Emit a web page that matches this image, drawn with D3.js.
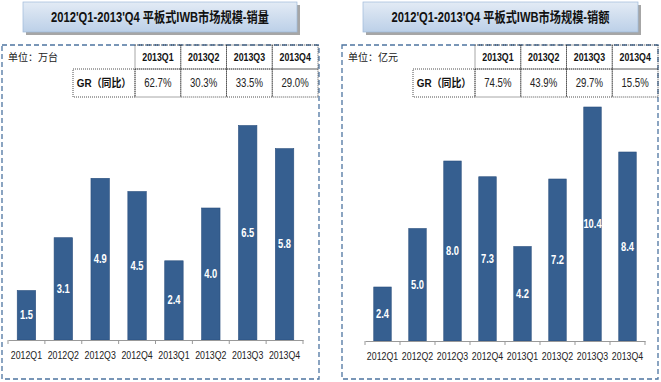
<!DOCTYPE html>
<html>
<head>
<meta charset="utf-8">
<script src="https://cdn.jsdelivr.net/npm/d3@7"></script>
<style>
  body { margin: 0; background: #fff; }
  svg { display: block; }
  text { font-family: "Liberation Sans", Arial, "Noto Sans CJK SC", sans-serif; }
</style>
</head>
<body>
<div id="chart"></div>
<script>
// data
const quarters = ['2012Q1', '2012Q2', '2012Q3', '2012Q4', '2013Q1', '2013Q2', '2013Q3', '2013Q4']
const volume = [1.5, 3.1, 4.9, 4.5, 2.4, 4.0, 6.5, 5.8]
const revenue = [2.4, 5.0, 8.0, 7.3, 4.2, 7.2, 10.4, 8.4]
const grQuarters = ['2013Q1', '2013Q2', '2013Q3', '2013Q4']
const volumeGR = ['62.7%', '30.3%', '33.5%', '29.0%']
const revenueGR = ['74.5%', '43.9%', '29.7%', '15.5%']

const W = 661, H = 382
const barColor = '#365f90'
const squeeze = 0.8   // fake a narrow font, the original used Arial Narrow

const svg = d3.select('#chart').append('svg')
    .attr('width', W)
    .attr('height', H)

const defs = svg.append('defs')
const grad = defs.append('linearGradient')
    .attr('id', 'titleGrad')
    .attr('x1', 0).attr('y1', 0).attr('x2', 0).attr('y2', 1)
grad.append('stop').attr('offset', '0%').attr('stop-color', '#e3ebf5')
grad.append('stop').attr('offset', '100%').attr('stop-color', '#bcd0e8')

// place text at (x,y) squeezed horizontally
function at(x, y, sx) {
    return `translate(${x},${y}) scale(${sx || squeeze},1)`
}

function drawPanel(opt) {
    const g = svg.append('g')

    // title box with shadow
    g.append('rect')
        .attr('x', opt.titleX + 3).attr('y', 5)
        .attr('width', opt.titleW).attr('height', 30)
        .attr('fill', '#a6a6a6')
    g.append('rect')
        .attr('x', opt.titleX).attr('y', 2)
        .attr('width', opt.titleW).attr('height', 30)
        .attr('fill', 'url(#titleGrad)')
        .attr('stroke', '#9fb9d9')
        .attr('stroke-width', 0.7)
    g.append('text')
        .attr('transform', at(opt.titleX + opt.titleW / 2, 22, 0.8))
        .attr('text-anchor', 'middle')
        .style('font-size', '14px')
        .style('font-weight', 'bold')
        .style('fill', '#111')
        .text(opt.title)

    // dashed frame
    g.append('rect')
        .attr('x', opt.boxX).attr('y', 45)
        .attr('width', opt.boxW).attr('height', 334)
        .attr('fill', 'none')
        .attr('stroke', '#4d74a0')
        .attr('stroke-width', 1.3)
        .attr('stroke-dasharray', '5,3')

    // unit label
    g.append('text')
        .attr('x', opt.boxX + 6).attr('y', 61)
        .style('font-size', '10px')
        .style('fill', '#222')
        .text(opt.unit)

    // GR table
    const cols = opt.tableCols
    const colX = d3.scaleBand().domain(grQuarters).range([cols[0], cols[1]])
    const rowTop = 45, rowMid = 69, rowBot = 97
    const dotted = sel => sel.attr('fill', 'none').attr('stroke', '#222')
        .attr('stroke-width', 0.8).attr('stroke-dasharray', '1,1')

    grQuarters.forEach(q => {
        g.append('rect').attr('x', colX(q)).attr('y', rowTop)
            .attr('width', colX.bandwidth()).attr('height', rowMid - rowTop).call(dotted)
        g.append('rect').attr('x', colX(q)).attr('y', rowMid)
            .attr('width', colX.bandwidth()).attr('height', rowBot - rowMid).call(dotted)
    })
    g.append('rect').attr('x', opt.grX).attr('y', rowMid)
        .attr('width', cols[0] - opt.grX).attr('height', rowBot - rowMid).call(dotted)

    g.selectAll('.hdr').data(grQuarters).join('text')
        .attr('transform', d => at(colX(d) + colX.bandwidth() / 2, 61))
        .attr('text-anchor', 'middle')
        .style('font-size', '11px')
        .style('font-weight', 'bold')
        .style('fill', '#111')
        .text(d => d)
    g.selectAll('.gr').data(opt.gr).join('text')
        .attr('transform', (d, i) => at(colX(grQuarters[i]) + colX.bandwidth() / 2, 87))
        .attr('text-anchor', 'middle')
        .style('font-size', '12px')
        .style('fill', '#222')
        .text(d => d)
    g.append('text')
        .attr('transform', at((opt.grX + cols[0]) / 2, 87, 0.9))
        .attr('text-anchor', 'middle')
        .style('font-size', '11px')
        .style('font-weight', 'bold')
        .style('fill', '#111')
        .text('GR（同比）')

    // bars
    const x = d3.scaleBand().domain(quarters).range(opt.axisX).paddingInner(0.5).paddingOuter(0.25)
    const y = d3.scaleLinear().domain([0, opt.yMax]).range([opt.baseY, opt.baseY - opt.yMax * opt.pxPerUnit])

    g.selectAll('.bar').data(opt.values).join('rect')
        .attr('x', (d, i) => x(quarters[i]))
        .attr('y', d => y(d))
        .attr('width', x.bandwidth())
        .attr('height', d => y(0) - y(d))
        .attr('fill', barColor)
        .attr('stroke', '#2b4f7e')
        .attr('stroke-width', 0.6)

    g.selectAll('.val').data(opt.values).join('text')
        .attr('transform', (d, i) => at(x(quarters[i]) + x.bandwidth() / 2, (y(d) + y(0)) / 2 + 4, 0.78))
        .attr('text-anchor', 'middle')
        .style('font-size', '12px')
        .style('font-weight', 'bold')
        .style('fill', '#fff')
        .text(d => d.toFixed(1))

    // axis
    const axis = d3.axisBottom(x).tickSize(0).tickPadding(11)
    const ag = g.append('g').attr('transform', `translate(0,${opt.baseY})`).call(axis)
    ag.select('.domain').attr('stroke', '#999')
    ag.selectAll('text')
        .attr('transform', `scale(${squeeze},1)`)
        .style('font-size', '11px').style('fill', '#222')
    // category boundary ticks
    const bounds = d3.range(quarters.length + 1).map(i => opt.axisX[0] + i * (opt.axisX[1] - opt.axisX[0]) / quarters.length)
    ag.selectAll('.bt').data(bounds).join('line')
        .attr('x1', d => d).attr('x2', d => d)
        .attr('y1', 0).attr('y2', 4)
        .attr('stroke', '#999')
}

drawPanel({
    title: "2012'Q1-2013'Q4 平板式IWB市场规模-销量",
    titleX: 23, titleW: 274,
    boxX: 2, boxW: 317,
    unit: '单位：万台',
    tableCols: [135, 318], grX: 73,
    gr: volumeGR,
    values: volume,
    axisX: [8, 303],
    baseY: 340, yMax: 7, pxPerUnit: 33
})

drawPanel({
    title: "2012'Q1-2013'Q4 平板式IWB市场规模-销额",
    titleX: 363, titleW: 275,
    boxX: 342, boxW: 316,
    unit: '单位：亿元',
    tableCols: [475, 658], grX: 413,
    gr: revenueGR,
    values: revenue,
    axisX: [365, 645],
    baseY: 341, yMax: 11, pxPerUnit: 22.5
})
</script>
</body>
</html>
